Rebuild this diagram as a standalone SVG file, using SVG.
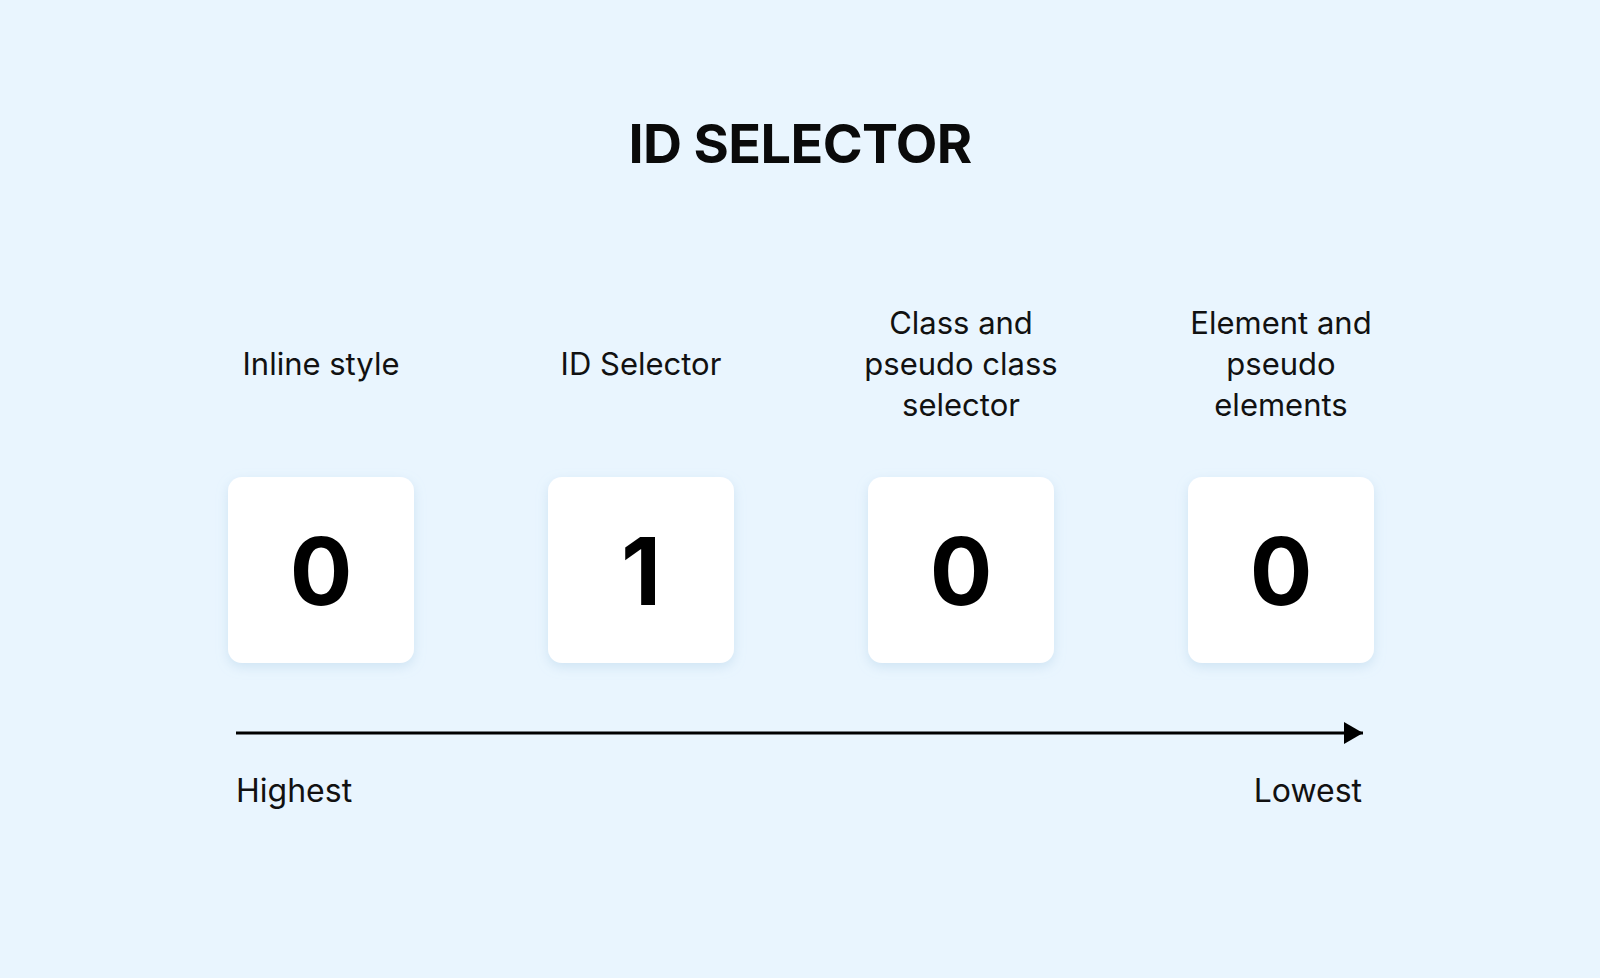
<svg xmlns="http://www.w3.org/2000/svg" width="1600" height="978" viewBox="0 0 1600 978">
  <defs>
    <style>
      .title { font-family: Inter, "Liberation Sans", sans-serif; font-weight: 700; font-size: 54px; letter-spacing: -0.6px; fill: #0a0a0a; text-anchor: middle; }
      .lbl { font-family: Inter, "Liberation Sans", sans-serif; font-weight: 400; font-size: 31px; fill: #111111; text-anchor: middle; }
      .num { font-family: Inter, "Liberation Sans", sans-serif; font-weight: 700; font-size: 93px; fill: #000000; text-anchor: middle; }
      .end { font-family: Inter, "Liberation Sans", sans-serif; font-weight: 400; font-size: 32px; fill: #111111; }
      .box { fill: #ffffff; filter: url(#shadow); }
    </style>
    <filter id="shadow" x="-20%" y="-20%" width="140%" height="140%">
      <feDropShadow dx="0" dy="4" stdDeviation="6" flood-color="#9cc3e0" flood-opacity="0.35"/>
    </filter>
    <marker id="arrow" markerWidth="19" markerHeight="22" refX="19" refY="11" orient="auto" markerUnits="userSpaceOnUse">
      <path d="M0,0 L19,11 L0,22 Z" fill="#000"/>
    </marker>
  </defs>
  <rect width="1600" height="978" fill="#e9f5fe"/>
  <text class="title" x="800" y="163">ID SELECTOR</text>

  <g id="node-inline">
    <text class="lbl" x="321" y="375">Inline style</text>
    <rect class="box" x="228" y="477" width="186" height="186" rx="14"/>
    <text class="num" x="321" y="605">0</text>
  </g>
  <g id="node-id">
    <text class="lbl" x="641" y="375">ID Selector</text>
    <rect class="box" x="548" y="477" width="186" height="186" rx="14"/>
    <text class="num" x="641" y="605">1</text>
  </g>
  <g id="node-class">
    <text class="lbl" x="961" y="334">Class and</text>
    <text class="lbl" x="961" y="375">pseudo class</text>
    <text class="lbl" x="961" y="416">selector</text>
    <rect class="box" x="868" y="477" width="186" height="186" rx="14"/>
    <text class="num" x="961" y="605">0</text>
  </g>
  <g id="node-element">
    <text class="lbl" x="1281" y="334">Element and</text>
    <text class="lbl" x="1281" y="375">pseudo</text>
    <text class="lbl" x="1281" y="416">elements</text>
    <rect class="box" x="1188" y="477" width="186" height="186" rx="14"/>
    <text class="num" x="1281" y="605">0</text>
  </g>

  <g id="connectors">
    <line x1="236" y1="733" x2="1363" y2="733" stroke="#000" stroke-width="3" marker-end="url(#arrow)"/>
  </g>
  <text class="end" x="236" y="802">Highest</text>
  <text class="end" x="1362" y="802" text-anchor="end">Lowest</text>
</svg>
